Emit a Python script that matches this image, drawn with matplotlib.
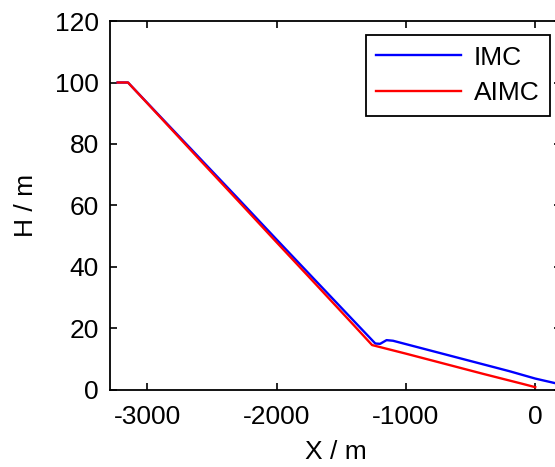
import numpy as np
import matplotlib.pyplot as plt

plt.rcParams['font.family'] = ['Liberation Sans', 'DejaVu Sans']
plt.rcParams['axes.unicode_minus'] = False

# IMC (blue)
x_imc = [-3230, -3150, -2900, -2600, -2300, -2000, -1700, -1400, -1237, -1200,
         -1150, -1100, -800, -500, -200, 0, 155]
h_imc = [100, 100, 88.9, 75.6, 62.3, 48.9, 35.6, 22.3, 15.1, 15.0,
         16.2, 16.0, 12.7, 9.4, 6.1, 3.7, 2.2]

# AIMC (red)
x_aimc = [-3230, -3150, -2900, -2600, -2300, -2000, -1700, -1400, -1262,
          -1000, -700, -400, -100, 0]
h_aimc = [100, 100, 88.7, 75.1, 61.6, 48.0, 34.5, 20.9, 14.6,
          11.8, 8.5, 5.2, 2.0, 0.9]

xticks = [-3000, -2000, -1000, 0]
yticks = [0, 20, 40, 60, 80, 100, 120]

fig = plt.figure(figsize=(5.55, 4.67), dpi=100)
ax = fig.add_axes([0.198, 0.165, 0.813, 0.790])

ax.plot(x_imc, h_imc, color='#0000ff', lw=1.7, label='IMC')
ax.plot(x_aimc, h_aimc, color='#ff0000', lw=1.7, label='AIMC')

ax.set_xlim(-3290, 200)
ax.set_ylim(0, 120)
ax.set_xticks(xticks)
ax.set_yticks(yticks)
ax.tick_params(direction='in', length=5, width=1.2, labelsize=19,
               top=True, right=True)
ax.tick_params(axis='x', pad=11)
ax.tick_params(axis='y', pad=8)
for s in ax.spines.values():
    s.set_linewidth(1.3)

ax.set_xlabel('X / m', fontsize=19, labelpad=8)
ax.set_ylabel('H / m', fontsize=19, labelpad=12)

leg = ax.legend(loc='upper right', bbox_to_anchor=(550 / 555, 1 - 35 / 467),
                bbox_transform=fig.transFigure, fontsize=19, fancybox=False,
                framealpha=1, edgecolor='black', handlelength=3.2,
                labelspacing=0.45, borderaxespad=0, handletextpad=0.5)
leg.get_frame().set_linewidth(1.3)

fig.savefig('out.png', dpi=100)
